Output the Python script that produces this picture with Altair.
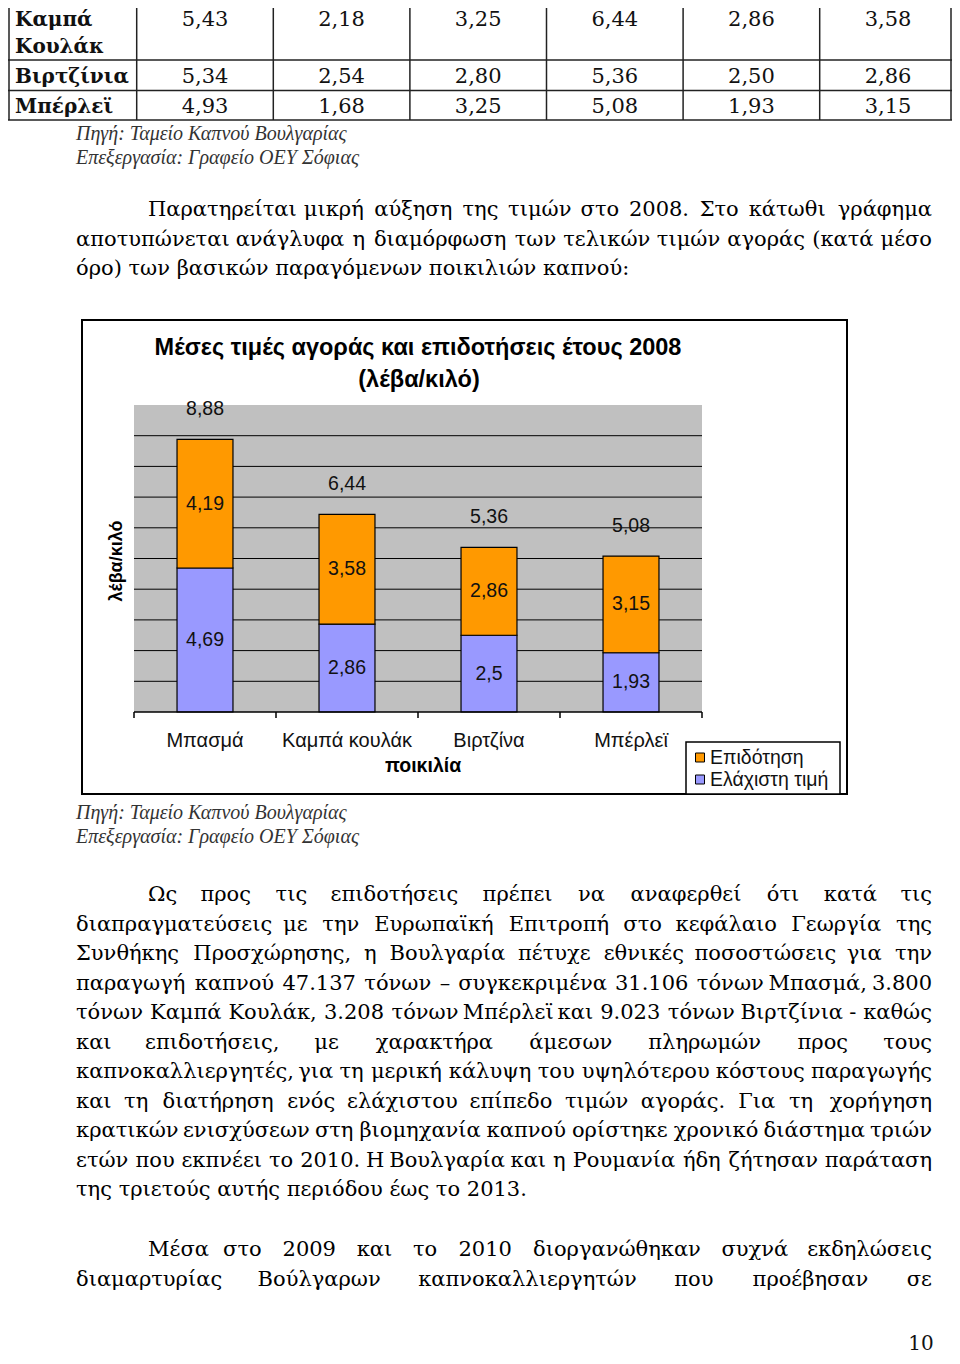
import altair as alt
import pandas as pd

# ---------------- data ----------------
table_row_labels = ["Καμπά", "Κουλάκ", "Βιρτζίνια", "Μπέρλεϊ"]
kampa_kulak = [5.43, 2.18, 3.25, 6.44, 2.86, 3.58]
virginia = [5.34, 2.54, 2.80, 5.36, 2.50, 2.86]
burley = [4.93, 1.68, 3.25, 5.08, 1.93, 3.15]

varieties = ["Μπασμά", "Καμπά κουλάκ", "Βιρτζίνα", "Μπέρλεϊ"]
min_price = [4.69, 2.86, 2.5, 1.93]
subsidy = [4.19, 3.58, 2.86, 3.15]
series_names = ["Επιδότηση", "Ελάχιστη τιμή"]
series_colors = ["#FF9900", "#9999FF"]
grid_values = [1, 2, 3, 4, 5, 6, 7, 8, 9]
y_domain = [0, 10]

chart_title = ["Μέσες τιμές αγοράς και επιδοτήσεις έτους 2008", "(λέβα/κιλό)"]
y_title = "λέβα/κιλό"
x_title = "ποικιλία"
source_lines = ["Πηγή: Ταμείο Καπνού Βουλγαρίας", "Επεξεργασία: Γραφείο ΟΕΥ Σόφιας"]

para1 = [
    "Παρατηρείται μικρή αύξηση της τιμών στο 2008. Στο κάτωθι γράφημα",
    "αποτυπώνεται ανάγλυφα η διαμόρφωση των τελικών τιμών αγοράς (κατά μέσο",
    "όρο) των βασικών παραγόμενων ποικιλιών καπνού:",
]
para2 = [
    "Ως προς τις επιδοτήσεις πρέπει να αναφερθεί ότι κατά τις",
    "διαπραγματεύσεις με την Ευρωπαϊκή Επιτροπή στο κεφάλαιο Γεωργία της",
    "Συνθήκης Προσχώρησης, η Βουλγαρία πέτυχε  εθνικές ποσοστώσεις για την",
    "παραγωγή καπνού 47.137 τόνων – συγκεκριμένα 31.106 τόνων Μπασμά,  3.800",
    "τόνων Καμπά Κουλάκ,  3.208 τόνων Μπέρλεϊ και 9.023 τόνων Βιρτζίνια - καθώς",
    "και    επιδοτήσεις,  με  χαρακτήρα  άμεσων  πληρωμών  προς  τους",
    "καπνοκαλλιεργητές, για τη μερική κάλυψη του υψηλότερου κόστους παραγωγής",
    "και τη διατήρηση ενός ελάχιστου επίπεδο τιμών αγοράς.  Για τη χορήγηση",
    "κρατικών ενισχύσεων στη βιομηχανία καπνού ορίστηκε χρονικό διάστημα τριών",
    "ετών που εκπνέει το 2010. Η Βουλγαρία και η Ρουμανία ήδη ζήτησαν παράταση",
    "της τριετούς αυτής περιόδου  έως  το 2013.",
]
para3 = [
    "Μέσα στο 2009 και το 2010 διοργανώθηκαν συχνά εκδηλώσεις",
    "διαμαρτυρίας Βούλγαρων καπνοκαλλιεργητών που προέβησαν σε",
]
page_number = "10"

# ---------------- layout helpers ----------------
def P(v):
    return v - 8  # page pixel -> canvas pixel (8px body margin)

one = pd.DataFrame({"k": [0]})
SANS = "Liberation Sans"
SERIF = "DejaVu Serif"
layers = []


def box(x1, y1, x2, y2, fill, stroke=None, sw=0):
    kw = dict(fill=fill)
    if stroke:
        kw.update(stroke=stroke, strokeWidth=sw)
    return alt.Chart(one).mark_rect(**kw).encode(
        x=alt.value(P(x1)), x2=alt.value(P(x2)), y=alt.value(P(y1)), y2=alt.value(P(y2)))


def hline(x1, x2, y, color="black", sw=1):
    return alt.Chart(one).mark_rule(color=color, strokeWidth=sw).encode(
        x=alt.value(P(x1)), x2=alt.value(P(x2)), y=alt.value(P(y)))


def vline(x, y1, y2, color="black", sw=1):
    return alt.Chart(one).mark_rule(color=color, strokeWidth=sw).encode(
        x=alt.value(P(x)), y=alt.value(P(y1)), y2=alt.value(P(y2)))


def label(text, x, y, size, font, weight="normal", style="normal", align="left",
          color="black", angle=0):
    return alt.Chart(pd.DataFrame({"t": [text]})).mark_text(
        font=font, fontSize=size, fontWeight=weight, fontStyle=style, align=align,
        baseline="middle", color=color, angle=angle).encode(
        x=alt.value(P(x)), y=alt.value(P(y)), text="t:N")


# ---------------- table ----------------
ncol = len(kampa_kulak)
tab_x = alt.Scale(domain=[0, ncol - 1], range=[P(205), P(888)])
bounds_df = pd.DataFrame({"b": [i - 0.5 for i in range(ncol)]})
layers.append(alt.Chart(bounds_df).mark_rule(color="#222", strokeWidth=1.5).encode(
    x=alt.X("b:Q", scale=tab_x, axis=None), y=alt.value(0), y2=alt.value(P(120))))
layers.append(vline(9, 0, 120, "#222", 1.5))
layers.append(vline(951, 0, 120, "#222", 1.5))
for yy in [60, 90.5, 120]:
    layers.append(hline(8, 952, yy, "#222", 1.5))


def table_row(vals, y):
    df = pd.DataFrame({"i": list(range(len(vals))), "v": vals})
    return alt.Chart(df).transform_calculate(
        lbl="replace(format(datum.v, '.2f'), '.', ',')").mark_text(
        font=SERIF, fontSize=21, align="center", baseline="middle", color="#111").encode(
        x=alt.X("i:Q", scale=tab_x, axis=None), y=alt.value(P(y)), text="lbl:N")


layers.append(table_row(kampa_kulak, 20))
layers.append(table_row(virginia, 76.5))
layers.append(table_row(burley, 107))
for t, yy in zip(table_row_labels, [20, 46.5, 76.5, 107]):
    layers.append(label(t, 15, yy, 20, SERIF, weight="bold", color="#111"))

for t, yy in zip(source_lines, [134, 158]):
    layers.append(label(t, 76, yy, 20, "Liberation Serif", style="italic", color="#333"))

# ---------------- body text (justified) ----------------
BODY_SIZE = 21
LEFT, RIGHT, INDENT = 76, 932, 148
CW = {' ': 0.318, '.': 0.318, ',': 0.318, ':': 0.337, '(': 0.39, ')': 0.39,
      '-': 0.338, '–': 0.5}
GL = {'α': .66, 'ά': .66, 'β': .64, 'γ': .6, 'δ': .6, 'ε': .53, 'έ': .53, 'ζ': .53,
      'η': .64, 'ή': .64, 'θ': .6, 'ι': .34, 'ί': .34, 'ϊ': .34, 'κ': .63, 'λ': .6,
      'μ': .65, 'ν': .6, 'ξ': .53, 'ο': .6, 'ό': .6, 'π': .66, 'ρ': .62, 'σ': .64,
      'ς': .53, 'τ': .55, 'υ': .6, 'ύ': .6, 'φ': .78, 'χ': .62, 'ψ': .8, 'ω': .82,
      'ώ': .82}


def char_w(c):
    if c in CW:
        return CW[c]
    if c in GL:
        return GL[c]
    if c.isdigit():
        return 0.636
    if c.isupper():
        return 0.75
    return 0.6


def word_w(w):
    return sum(char_w(c) for c in w) * BODY_SIZE


rows = []


def layout(lines, y0, justify_last=False, step=29.5):
    for k, line in enumerate(lines):
        y = P(y0 + k * step)
        x0 = INDENT if k == 0 else LEFT
        is_last = k == len(lines) - 1
        if is_last and not justify_last:
            rows.append({"w": " ".join(line.split()), "x": P(x0), "y": y, "al": "left"})
            continue
        words = line.split()
        ws = [word_w(w) for w in words]
        gap = (RIGHT - x0 - sum(ws)) / (len(words) - 1)
        s = x0
        for i, (w, wd) in enumerate(zip(words, ws)):
            if i == 0:
                rows.append({"w": w, "x": P(x0), "y": y, "al": "left"})
            elif i == len(words) - 1:
                rows.append({"w": w, "x": P(RIGHT), "y": y, "al": "right"})
            else:
                rows.append({"w": w, "x": P(s + wd / 2), "y": y, "al": "center"})
            s += wd + gap


layout(para1, 210)
layout(para2, 895)
layout(para3, 1250, justify_last=True)
body_df = pd.DataFrame(rows)
for al in ["left", "center", "right"]:
    layers.append(alt.Chart(body_df).transform_filter(alt.datum.al == al).mark_text(
        font=SERIF, fontSize=BODY_SIZE, align=al, baseline="middle", color="black").encode(
        x=alt.X("x:Q", scale=None, axis=None), y=alt.Y("y:Q", scale=None, axis=None),
        text="w:N"))

layers.append(label(page_number, 921, 1344, 20, SERIF, align="center", color="#111"))

# ---------------- bar chart ----------------
layers.append(box(82, 320, 847, 794, "white", "black", 2))
layers.append(box(134, 405, 702, 712, "#C0C0C0"))

ys = alt.Scale(domain=y_domain, range=[P(712), P(405)])
xs = alt.Scale(domain=varieties, range=[P(134), P(702)], paddingInner=0.606, paddingOuter=0.303)
cs = alt.Scale(domain=series_names, range=series_colors)

grid_df = pd.DataFrame({"g": grid_values})
layers.append(alt.Chart(grid_df).mark_rule(color="black", strokeWidth=1).encode(
    y=alt.Y("g:Q", scale=ys, axis=None), x=alt.value(P(134)), x2=alt.value(P(702))))

bars_df = pd.DataFrame({
    "variety": varieties * 2,
    "series": [series_names[1]] * len(varieties) + [series_names[0]] * len(varieties),
    "value": min_price + subsidy,
    "ord": [0] * len(varieties) + [1] * len(varieties),
})
layers.append(alt.Chart(bars_df).mark_bar(stroke="black", strokeWidth=1.2).encode(
    x=alt.X("variety:N", scale=xs, axis=None),
    y=alt.Y("value:Q", scale=ys, axis=None, stack="zero"),
    color=alt.Color("series:N", scale=cs, legend=None),
    order=alt.Order("ord:Q"),
))

layers.append(alt.Chart(bars_df).transform_stack(
    stack="value", groupby=["variety"], as_=["v0", "v1"], sort=[alt.SortField("ord")]
).transform_calculate(
    mid="(datum.v0 + datum.v1) / 2",
    lbl="replace(format(datum.value, '.3~g'), '.', ',')",
).mark_text(font=SANS, fontSize=19.5, color="#111", baseline="middle").encode(
    x=alt.X("variety:N", scale=xs, axis=None),
    y=alt.Y("mid:Q", scale=ys, axis=None),
    text="lbl:N",
))

layers.append(alt.Chart(bars_df).transform_aggregate(
    total="sum(value)", groupby=["variety"]
).transform_calculate(
    lbl="replace(format(datum.total, '.2f'), '.', ',')"
).mark_text(font=SANS, fontSize=19.5, color="#111", baseline="middle", dy=-30).encode(
    x=alt.X("variety:N", scale=xs, axis=None),
    y=alt.Y("total:Q", scale=ys, axis=None),
    text="lbl:N",
))

# x axis line, boundary ticks and labels
layers.append(hline(134, 702, 712, "black", 1.5))
tick_df = pd.DataFrame({"k": list(range(len(varieties) + 1))})
layers.append(alt.Chart(tick_df).mark_rule(color="black", strokeWidth=1.5).encode(
    x=alt.X("k:Q", scale=alt.Scale(domain=[0, len(varieties)], range=[P(134), P(702)]), axis=None),
    y=alt.value(P(712)), y2=alt.value(P(718))))
layers.append(alt.Chart(pd.DataFrame({"variety": varieties})).mark_text(
    font=SANS, fontSize=20, color="#111", baseline="middle").encode(
    x=alt.X("variety:N", scale=xs, axis=None), y=alt.value(P(741)), text="variety:N"))
layers.append(label(x_title, 423, 766, 19.5, SANS, weight="bold", align="center"))
layers.append(label(y_title, 117, 561, 18, SANS, weight="bold", align="center", angle=270))
layers.append(label(chart_title[0], 418, 348, 23.5, SANS, weight="bold", align="center"))
layers.append(label(chart_title[1], 419, 380, 23.5, SANS, weight="bold", align="center"))

# legend
layers.append(box(686, 742, 840, 794, "white", "black", 1.5))
leg_df = pd.DataFrame({"series": series_names})
leg_y = alt.Scale(type="point", domain=series_names, range=[P(757.5), P(779.5)], padding=0)
layers.append(alt.Chart(leg_df).mark_square(size=81, stroke="black", strokeWidth=1, opacity=1).encode(
    x=alt.value(P(700)), y=alt.Y("series:N", scale=leg_y, axis=None),
    color=alt.Color("series:N", scale=cs, legend=None)))
layers.append(alt.Chart(leg_df).mark_text(
    font=SANS, fontSize=19.5, color="#111", align="left", baseline="middle").encode(
    x=alt.value(P(710)), y=alt.Y("series:N", scale=leg_y, axis=None), text="series:N"))

for t, yy in zip(source_lines, [813, 837]):
    layers.append(label(t, 76, yy, 20, "Liberation Serif", style="italic", color="#333"))

chart = alt.layer(*layers).resolve_scale(
    x="independent", y="independent"
).properties(
    width=944, height=1348, padding=0, autosize=alt.AutoSizeParams(type="none"),
    background="white",
).configure_view(stroke=None)

chart.save("out.html", embed_options={"renderer": "svg", "actions": False})
